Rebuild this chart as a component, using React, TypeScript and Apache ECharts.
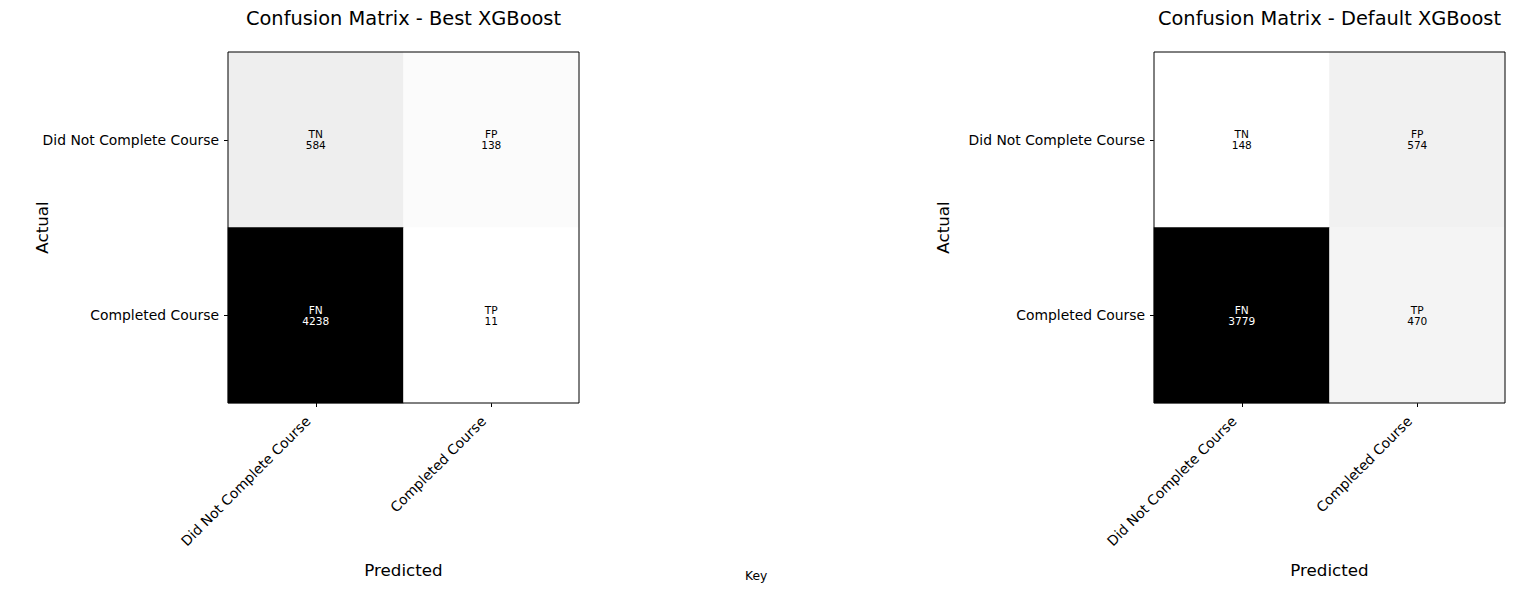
import React, { useEffect, useRef } from 'react'
import * as echarts from 'echarts'

// class labels (same for both matrices)
const classes = ['Did Not Complete Course', 'Completed Course']
// cell tags, row-major: [actual][predicted]
const cellTags = [['TN', 'FP'], ['FN', 'TP']]

// confusion matrix values, row-major
const bestValues = [[584, 138], [4238, 11]]
const defaultValues = [[148, 574], [3779, 470]]

const titles = ['Confusion Matrix - Best XGBoost', 'Confusion Matrix - Default XGBoost']

// matplotlib "Greys" colormap stops
const greys = ['#ffffff', '#f0f0f0', '#d9d9d9', '#bdbdbd', '#969696', '#737373', '#525252', '#252525', '#000000']

const FONT = 'DejaVu Sans'

function buildCells(values: number[][]) {
    const flat = values.flat()
    const mx = Math.max(...flat)
    const cells: any[] = []
    values.forEach((row, r) => {
        row.forEach((v, c) => {
            cells.push({
                value: [c, r, v],
                label: { color: v > mx / 2 ? '#ffffff' : '#000000' },
            })
        })
    })
    return cells
}

const App: React.FC = () => {
    const chartRef = useRef<HTMLDivElement | null>(null)

    useEffect(() => {
        if (!chartRef.current) return
        const chart = echarts.init(chartRef.current, null, { renderer: 'svg' })

        const matrices = [bestValues, defaultValues]
        const grids = [
            { left: 228, top: 52, width: 351, height: 351 },
            { left: 1154, top: 52, width: 351, height: 351 },
        ]
        const yNameGap = [178, 203]

        const option: any = {
            animation: false,
            textStyle: { fontFamily: FONT },
            title: titles.map((t, i) => ({
                text: t,
                left: grids[i].left + grids[i].width / 2 - 5,
                top: 4,
                textAlign: 'center',
                textStyle: { fontFamily: FONT, fontSize: 19.4, fontWeight: 'normal', color: '#000' },
            })),
            grid: grids.map((g) => ({ ...g, show: true, borderColor: '#000', borderWidth: 1, backgroundColor: 'transparent', z: 10 })),
            xAxis: grids.map((_, i) => ({
                type: 'category',
                gridIndex: i,
                data: classes,
                name: 'Predicted',
                nameLocation: 'middle',
                nameGap: 158,
                nameTextStyle: { fontFamily: FONT, fontSize: 16.7, color: '#000' },
                axisLine: { show: false },
                axisTick: { show: true, alignWithLabel: true, length: 4, lineStyle: { color: '#000' } },
                axisLabel: { rotate: 45, margin: 8, padding: [0, 11, 0, 0], fontFamily: FONT, fontSize: 13.9, color: '#000', interval: 0 },
                splitLine: { show: false },
            })),
            yAxis: grids.map((_, i) => ({
                type: 'category',
                gridIndex: i,
                data: classes,
                inverse: true,
                name: 'Actual',
                nameLocation: 'middle',
                nameGap: yNameGap[i],
                nameMoveOverlap: false,
                nameTextStyle: { fontFamily: FONT, fontSize: 16.7, color: '#000' },
                axisLine: { show: false },
                axisTick: { show: true, alignWithLabel: true, length: 4, lineStyle: { color: '#000' } },
                axisLabel: { margin: 9, fontFamily: FONT, fontSize: 13.9, color: '#000', interval: 0 },
                splitLine: { show: false },
            })),
            visualMap: matrices.map((m, i) => ({
                show: false,
                seriesIndex: i,
                dimension: 2,
                min: Math.min(...m.flat()),
                max: Math.max(...m.flat()),
                inRange: { color: greys },
            })),
            series: matrices.map((m, i) => ({
                type: 'heatmap',
                xAxisIndex: i,
                yAxisIndex: i,
                data: buildCells(m),
                label: {
                    show: true,
                    fontFamily: FONT,
                    fontSize: 10.6,
                    lineHeight: 11,
                    formatter: (p: any) => `${cellTags[p.value[1]][p.value[0]]}\n${p.value[2]}`,
                },
                itemStyle: { borderWidth: 0 },
                emphasis: { disabled: true },
            })),
            graphic: [
                {
                    type: 'text',
                    left: 745,
                    top: 570,
                    style: { text: 'Key', fontFamily: FONT, fontSize: 12.3, fill: '#000' },
                },
            ],
        }

        chart.setOption(option)

        return () => {
            chart.dispose()
        }
    }, [])

    return <div ref={chartRef} style={{ position: 'fixed', left: 0, top: 0, width: 1514, height: 599, background: '#fff' }} />
}

export default App
